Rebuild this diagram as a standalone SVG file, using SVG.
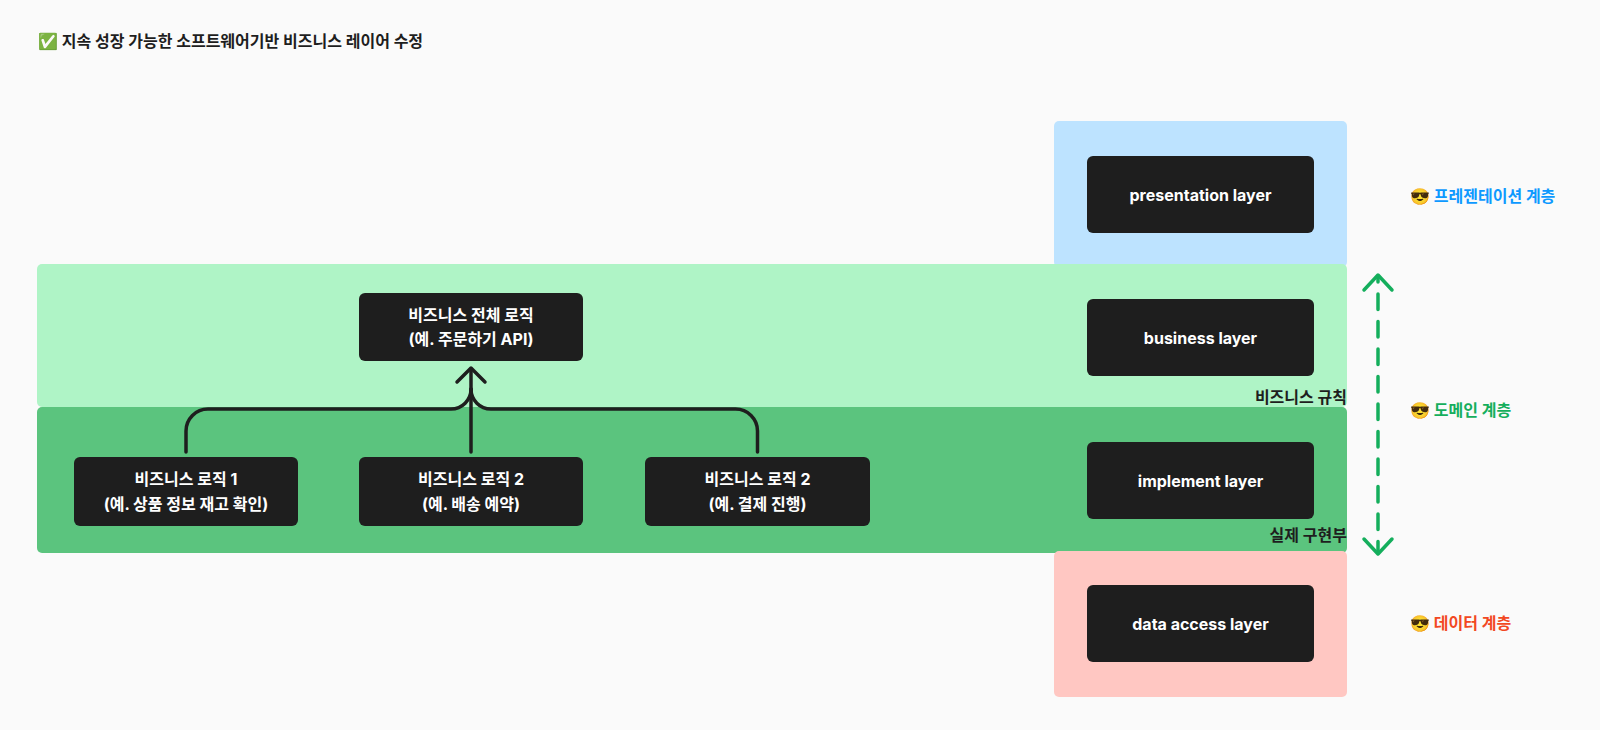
<svg xmlns="http://www.w3.org/2000/svg" width="1600" height="730" viewBox="0 0 1600 730">
<style>
text{font-family:"Inter","Noto Sans CJK KR",sans-serif;font-weight:700}
.node rect{fill:#1e1e1e}
.node text{fill:#ffffff;font-size:16px;text-anchor:middle}
.lbl{fill:#1e1e1e;font-size:16px;text-anchor:end}
.side{font-size:16px}
.conn{fill:none;stroke:#1e1e1e;stroke-width:3.5;stroke-linecap:round;stroke-linejoin:round}
.dash{fill:none;stroke:#14ae5c;stroke-width:3.5;stroke-linecap:round;stroke-linejoin:round}
</style>
<rect x="0" y="0" width="1600" height="730" fill="#fafafa"/>
<g id="title">
<text x="38" y="46.5" font-size="16" fill="#1e1e1e">✅ 지속 성장 가능한 소프트웨어기반 비즈니스 레이어 수정</text>
</g>
<g id="zones">
<rect id="zone-presentation" x="1054" y="121" width="293" height="146" rx="5" fill="#bde3ff"/>
<rect id="zone-business" x="37" y="264" width="1310" height="143" rx="5" fill="#aff4c6"/>
<rect id="zone-implement" x="37" y="407" width="1310" height="146" rx="5" fill="#5bc47e"/>
<rect id="zone-data" x="1054" y="551" width="293" height="146" rx="5" fill="#ffc7c2"/>
<text class="lbl" x="1347" y="403">비즈니스 규칙</text>
<text class="lbl" x="1347" y="541">실제 구현부</text>
</g>
<g id="connectors">
<path class="conn" d="M186,452 V431 A22,22 0 0 1 208,409 H451 A20,20 0 0 0 471,389"/>
<path class="conn" d="M757.5,452 V431 A22,22 0 0 0 735.5,409 H491 A20,20 0 0 1 471,389"/>
<path class="conn" d="M471,452 V369"/>
<polyline class="conn" points="457,382 471,368 485,382"/>
<path class="dash" d="M1378,277 V282"/>
<path class="dash" d="M1378,294 V552" stroke-dasharray="15.5 12"/>
<polyline class="dash" points="1364,290 1378,275 1392,290"/>
<polyline class="dash" points="1364,539 1378,554 1392,539"/>
</g>
<g id="node-total" class="node">
<rect x="359" y="293" width="224" height="68" rx="6"/>
<text x="471" y="320.5">비즈니스 전체 로직</text>
<text x="471" y="344.5">(예. 주문하기 API)</text>
</g>
<g id="node-logic1" class="node">
<rect x="74" y="457" width="224" height="69" rx="6"/>
<text x="186" y="484.5">비즈니스 로직 1</text>
<text x="186" y="509.5">(예. 상품 정보 재고 확인)</text>
</g>
<g id="node-logic2" class="node">
<rect x="359" y="457" width="224" height="69" rx="6"/>
<text x="471" y="484.5">비즈니스 로직 2</text>
<text x="471" y="509.5">(예. 배송 예약)</text>
</g>
<g id="node-logic3" class="node">
<rect x="645" y="457" width="225" height="69" rx="6"/>
<text x="757.5" y="484.5">비즈니스 로직 2</text>
<text x="757.5" y="509.5">(예. 결제 진행)</text>
</g>
<g id="node-presentation" class="node">
<rect x="1087" y="156" width="227" height="77" rx="6"/>
<text x="1200.5" y="200.5">presentation layer</text>
</g>
<g id="node-business" class="node">
<rect x="1087" y="299" width="227" height="77" rx="6"/>
<text x="1200.5" y="343.5">business layer</text>
</g>
<g id="node-implement" class="node">
<rect x="1087" y="442" width="227" height="77" rx="6"/>
<text x="1200.5" y="486.5">implement layer</text>
</g>
<g id="node-data" class="node">
<rect x="1087" y="585" width="227" height="77" rx="6"/>
<text x="1200.5" y="629.5">data access layer</text>
</g>
<g id="side-labels">
<text class="side" x="1410" y="201.5" fill="#0d99ff">😎 프레젠테이션 계층</text>
<text class="side" x="1410" y="415.5" fill="#14ae5c">😎 도메인 계층</text>
<text class="side" x="1410" y="628.5" fill="#f24822">😎 데이터 계층</text>
</g>
</svg>
